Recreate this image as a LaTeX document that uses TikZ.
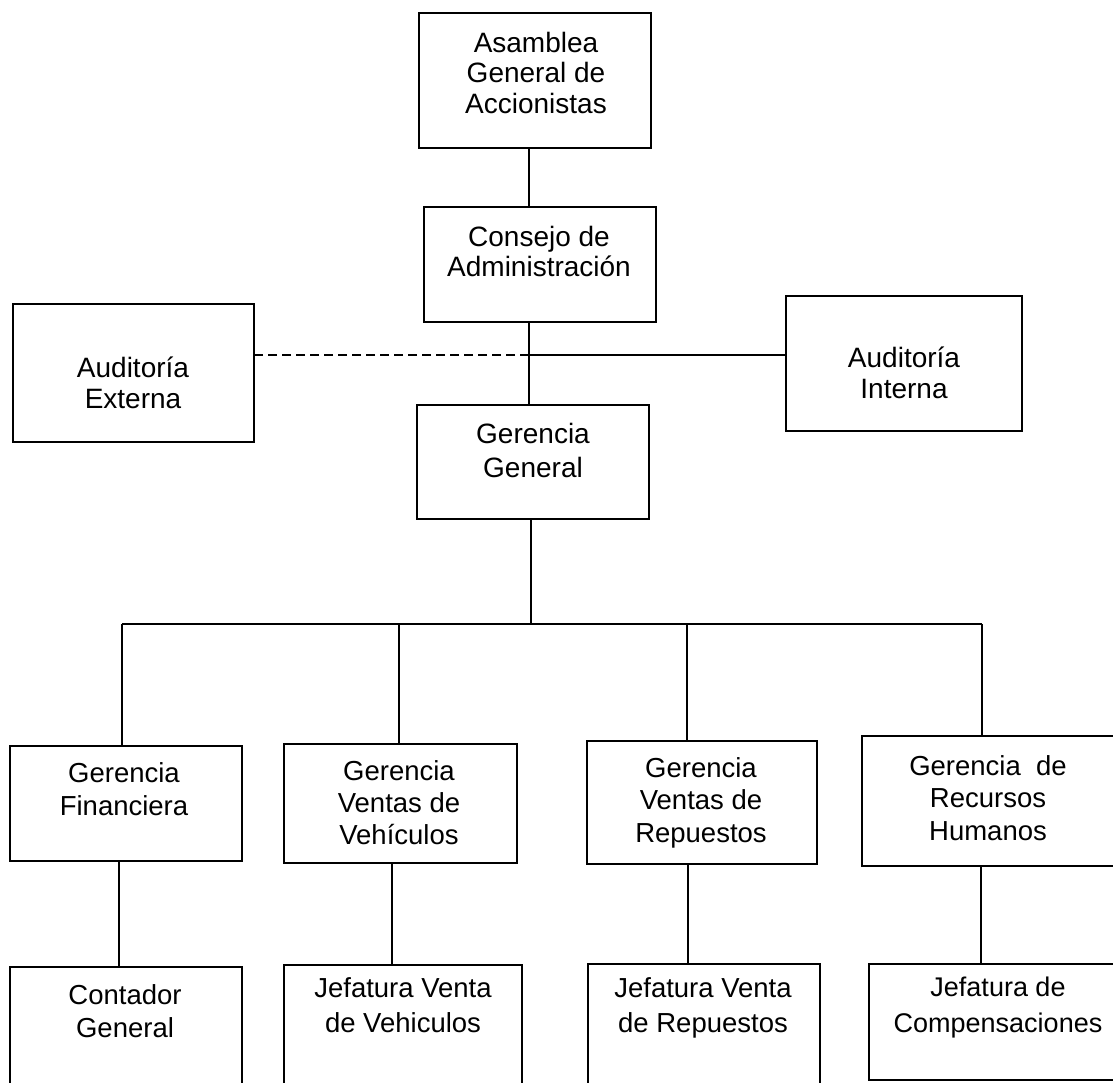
\documentclass[tikz,border=0pt]{standalone}
\usepackage{fontspec}
\setmainfont{Liberation Sans}
\usetikzlibrary{fit}
\begin{document}
\begin{tikzpicture}[x=1pt,y=-1pt,
  box/.style={draw=black,line width=1.3pt,inner sep=0pt,fill=none},
  txt/.style 2 args={font=\fontsize{#1}{#2}\selectfont,align=center,anchor=base,inner sep=0pt},
  link/.style={draw=black,line width=1.2pt},
  dlink/.style={draw=black,line width=1.1pt,dash pattern=on 9pt off 5pt}]
\useasboundingbox (0,0) rectangle (1113,1082);
\clip (0,0) rectangle (1113,1082);
\fill[white] (0,0) rectangle (1113,1082);
% boxes
\node[box,fit={(419,13) (651,148)}] (asam) {};
\node[box,fit={(424,207) (656,322)}] (cons) {};
\node[box,fit={(13,304) (254,442)}] (ext) {};
\node[box,fit={(786,296) (1022,431)}] (int) {};
\node[box,fit={(417,405) (649,519)}] (gg) {};
\node[box,fit={(10,746) (242,861)}] (fin) {};
\node[box,fit={(284,744) (517,863)}] (veh) {};
\node[box,fit={(587,741) (817,864)}] (rep) {};
\node[box,fit={(862,736) (1130,866)}] (rrhh) {};
\node[box,fit={(10,967) (242,1100)}] (cont) {};
\node[box,fit={(284,965) (522,1100)}] (jveh) {};
\node[box,fit={(588,964) (820,1100)}] (jrep) {};
\node[box,fit={(869,964) (1130,1080)}] (jcomp) {};
% texts (anchored at the baseline of the last line)
\node[txt={28}{30.5}] (asam-t) at (536,113) {Asamblea\\General de\\Accionistas};
\node[txt={28}{30}] (cons-t) at (539,276) {Consejo de\\Administración};
\node[txt={28}{31}] (ext-t) at (133,408) {Auditoría\\Externa};
\node[txt={28}{31}] (int-t) at (904,398) {Auditoría\\Interna};
\node[txt={28}{34}] (gg-t) at (533,477) {Gerencia\\General};
\node[txt={27.5}{33}] (fin-t) at (124,815) {Gerencia\\Financiera};
\node[txt={27.5}{32}] (veh-t) at (399,844) {Gerencia\\Ventas de\\Vehículos};
\node[txt={27.5}{32.5}] (rep-t) at (701,842) {Gerencia\\Ventas de\\Repuestos};
\node[txt={27.5}{32.5}] (rrhh-t) at (988,840) {Gerencia\ \ de\\Recursos\\Humanos};
\node[txt={27.5}{33}] (cont-t) at (125,1037) {Contador\\General};
\node[txt={27.5}{35}] (jveh-t) at (403,1032) {Jefatura Venta\\de Vehiculos};
\node[txt={27.5}{35}] (jrep-t) at (703,1032) {Jefatura Venta\\de Repuestos};
\node[txt={27}{36}] (jcomp-t) at (998,1032) {Jefatura de\\Compensaciones};
% connector coordinates
\coordinate (spine) at (529,0);
\coordinate (spine2) at (531,0);
\coordinate (aud) at (529,355);
\coordinate (bus) at (531,624);
\coordinate (busL) at (122,624);
\coordinate (busR) at (982,624);
\coordinate (d2) at (399,624);
\coordinate (d3) at (687,624);
\coordinate (c1) at (119,0);
\coordinate (c2) at (392,0);
\coordinate (c3) at (688,0);
\coordinate (c4) at (981,0);
% connectors
\draw[link] (spine |- asam.south) -- (spine |- cons.north);
\draw[link] (spine |- cons.south) -- (spine |- gg.north);
\draw[dlink] (aud) -- (aud -| ext.east);
\draw[link] (aud) -- (aud -| int.west);
\draw[link] (spine2 |- gg.south) -- (bus);
\draw[link] (busL) -- (busR);
\draw[link] (busL) -- (busL |- fin.north);
\draw[link] (d2) -- (d2 |- veh.north);
\draw[link] (d3) -- (d3 |- rep.north);
\draw[link] (busR) -- (busR |- rrhh.north);
\draw[link] (c1 |- fin.south) -- (c1 |- cont.north);
\draw[link] (c2 |- veh.south) -- (c2 |- jveh.north);
\draw[link] (c3 |- rep.south) -- (c3 |- jrep.north);
\draw[link] (c4 |- rrhh.south) -- (c4 |- jcomp.north);
\end{tikzpicture}
\end{document}
